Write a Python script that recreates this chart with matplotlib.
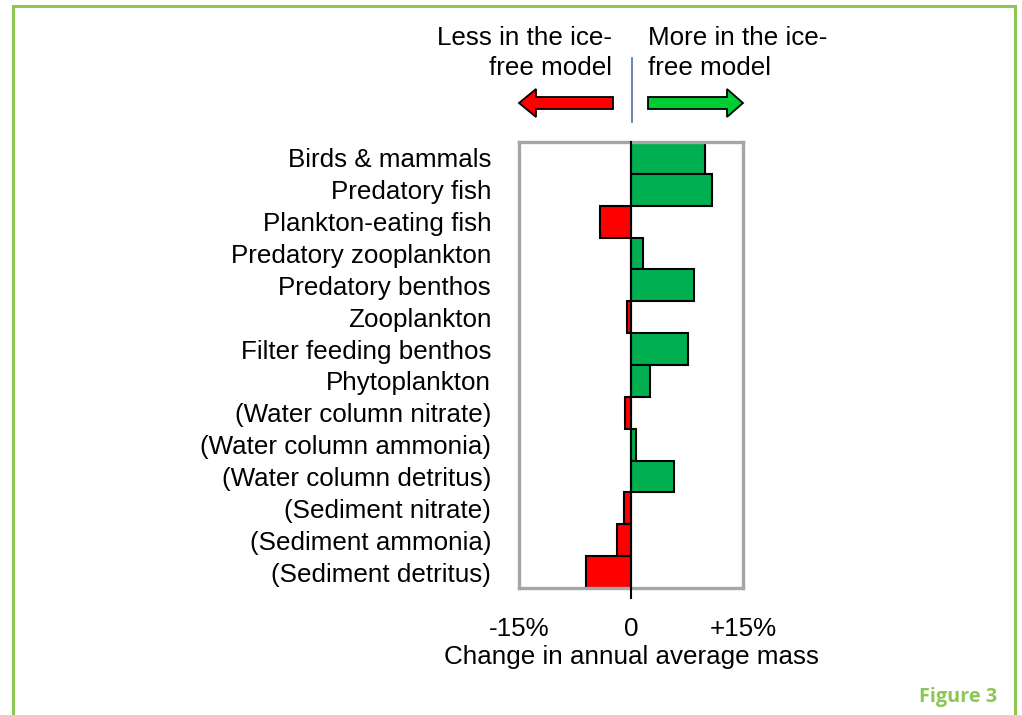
import matplotlib
matplotlib.use("Agg")
import matplotlib.pyplot as plt
from matplotlib.patches import Polygon

plt.rcParams['font.family'] = ['Liberation Sans', 'DejaVu Sans']

# data: change in annual average mass (%), ice-free model vs baseline
groups = ['Birds & mammals', 'Predatory fish', 'Plankton-eating fish',
          'Predatory zooplankton', 'Predatory benthos', 'Zooplankton',
          'Filter feeding benthos', 'Phytoplankton',
          '(Water column nitrate)', '(Water column ammonia)',
          '(Water column detritus)', '(Sediment nitrate)',
          '(Sediment ammonia)', '(Sediment detritus)']
change = [9.9, 10.9, -4.2, 1.6, 8.5, -0.5, 7.6, 2.6,
          -0.75, 0.65, 5.7, -0.9, -1.9, -6.0]
tick_vals = [-15, 0, 15]
tick_labels = ['-15%', '0', '+15%']

fig = plt.figure(figsize=(10.22, 7.15), dpi=100)

# overlay in pixel coords for frame, arrows and captions
bg = fig.add_axes([0, 0, 1, 1])
bg.set_xlim(0, 1022)
bg.set_ylim(715, 0)
bg.axis('off')
green_frame = '#8cc751'
bg.plot([13, 13, 1015, 1015], [715, 6, 6, 715], color=green_frame, lw=2.2,
        solid_joinstyle='miter')
bg.text(997, 697, 'Figure 3', color=green_frame, fontsize=14.3,
        fontweight='bold', family=['Open Sans', 'DejaVu Sans'],
        ha='right', va='center')

bg.text(612, 53, 'Less in the ice-\nfree model', ha='right', va='center',
        fontsize=18.7, linespacing=1.32)
bg.text(648, 53, 'More in the ice-\nfree model', ha='left', va='center',
        fontsize=18.7, linespacing=1.32)
bg.plot([632, 632], [58, 122], color='#5b7fa8', lw=1.3)

# arrows
red_arrow = [(613, 97), (536, 97), (536, 89), (519, 103), (536, 117),
             (536, 109), (613, 109)]
green_arrow = [(648, 97), (727, 97), (727, 89), (743, 103), (727, 117),
               (727, 109), (648, 109)]
bg.add_patch(Polygon(red_arrow, closed=True, fc='#ff0000', ec='black', lw=1.3))
bg.add_patch(Polygon(green_arrow, closed=True, fc='#00cc33', ec='black', lw=1.3))

# main chart
ax = fig.add_axes([519 / 1022, 1 - 588 / 715, 224 / 1022, 446 / 715])
colors = ['#00b050' if v > 0 else '#ff0000' for v in change]
ax.barh(range(len(groups)), change, height=1.0, color=colors,
        edgecolor='black', linewidth=1.5, zorder=2)
ax.axvline(0, ymin=-0.023, ymax=1, color='black', lw=1.5, clip_on=False,
           zorder=3)
ax.set_xlim(-15, 15)
ax.set_ylim(len(groups) - 0.5, -0.5)
ax.set_yticks(range(len(groups)))
ax.set_yticklabels(groups, fontsize=18.7)
ax.set_xticks(tick_vals)
ax.set_xticklabels(tick_labels, fontsize=18.7)
ax.tick_params(axis='y', length=0, pad=20)
ax.tick_params(axis='x', length=0, pad=21)
ax.set_xlabel('Change in annual average mass', fontsize=18.7, labelpad=3)
for s in ax.spines.values():
    s.set_color('#a6a6a6')
    s.set_linewidth(2.4)

fig.savefig('out.png', dpi=100)
